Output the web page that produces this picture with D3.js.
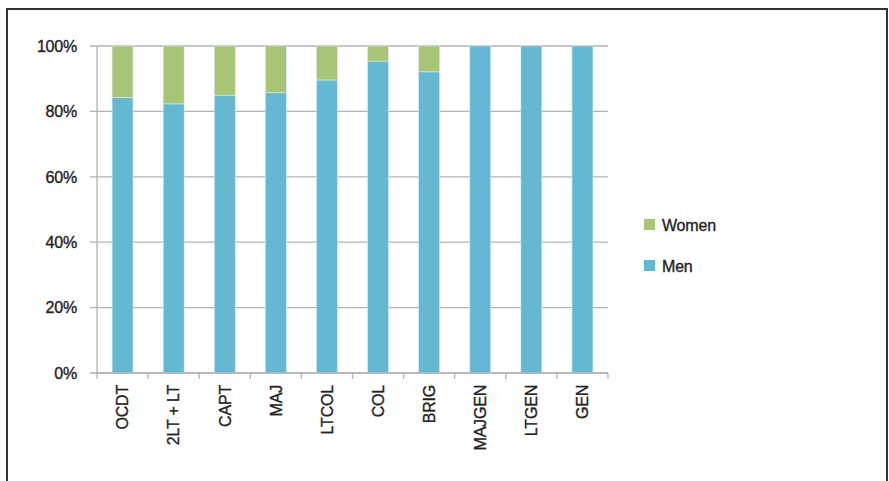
<!DOCTYPE html>
<html>
<head>
<meta charset="utf-8">
<script src="https://cdn.jsdelivr.net/npm/d3@7"></script>
<style>
  html, body { margin: 0; padding: 0; background: #fff; }
  svg { display: block; }
  text { font-family: "Liberation Sans", Arial, sans-serif; fill: #222; stroke: #222; stroke-width: 0.35px; letter-spacing: -0.2px; }
</style>
</head>
<body>
<svg id="chart" width="889" height="481"></svg>
<script>
const categories = ["OCDT", "2LT + LT", "CAPT", "MAJ", "LTCOL", "COL", "BRIG", "MAJGEN", "LTGEN", "GEN"];
const men   = [84.3, 82.3, 84.8, 85.7, 89.6, 95.4, 92.1, 100, 100, 100];
const women = [15.7, 17.7, 15.2, 14.3, 10.4, 4.6, 7.9, 0, 0, 0];
const yTicks = [0, 20, 40, 60, 80, 100];
const seriesNames = ["Men", "Women"];
const seriesColors = { Men: "#64b8d1", Women: "#a8c576" };

(function () {
const svg = d3.select("#chart");

// frame
svg.append("rect")
  .attr("x", 7).attr("y", 9).attr("width", 880).attr("height", 500)
  .attr("fill", "none").attr("stroke", "#333").attr("stroke-width", 2);

const pLeft = 97, pRight = 608, pTop = 46, pBottom = 373;

const x = d3.scaleBand().domain(categories).range([pLeft, pRight]).paddingInner(0.59).paddingOuter(0.295);
const xb = d3.scaleBand().domain(categories).range([pLeft, pRight]);
const y = d3.scaleLinear().domain([0, 100]).range([pBottom, pTop]);

// gridlines
svg.append("g").selectAll("line").data(yTicks).join("line")
  .attr("x1", pLeft - 7).attr("x2", pRight)
  .attr("y1", d => y(d)).attr("y2", d => y(d))
  .attr("stroke", "#b3b3b3").attr("stroke-width", 1.3);

// y labels
svg.append("g").selectAll("text").data(yTicks).join("text")
  .attr("x", 77).attr("y", d => y(d)).attr("dy", "0.36em")
  .attr("text-anchor", "end").attr("font-size", 16)
  .text(d => d + "%");

// stacked data
const rows = categories.map((c, i) => ({ cat: c, Men: men[i], Women: women[i] }));
const stack = d3.stack().keys(seriesNames)(rows);

svg.append("g").selectAll("g").data(stack).join("g")
  .attr("fill", d => seriesColors[d.key])
  .selectAll("rect").data(d => d.filter(p => p[1] - p[0] > 0)).join("rect")
  .attr("x", d => x(d.data.cat))
  .attr("width", x.bandwidth())
  .attr("y", d => y(d[1]))
  .attr("height", d => y(d[0]) - y(d[1]))
  .attr("stroke", "#d8ecf2").attr("stroke-width", 0.6);

// y axis line
svg.append("line").attr("x1", pLeft).attr("x2", pLeft).attr("y1", pTop).attr("y2", pBottom)
  .attr("stroke", "#b3b3b3").attr("stroke-width", 1.3);

// x axis
const xAxis = svg.append("g");
xAxis.append("line").attr("x1", pLeft).attr("x2", pRight).attr("y1", pBottom).attr("y2", pBottom)
  .attr("stroke", "#b3b3b3").attr("stroke-width", 1.3);
const tickPos = categories.map(c => xb(c)).concat([pRight]);
xAxis.selectAll("line.t").data(tickPos).join("line").attr("class", "t")
  .attr("x1", d => d).attr("x2", d => d).attr("y1", pBottom).attr("y2", pBottom + 6)
  .attr("stroke", "#b3b3b3").attr("stroke-width", 1.3);

xAxis.selectAll("text").data(categories).join("text")
  .attr("transform", d => `translate(${xb(d) + xb.bandwidth() / 2},385) rotate(-90)`)
  .attr("text-anchor", "end").attr("dy", "0.36em")
  .attr("font-size", 16)
  .text(d => d);

// legend
const legendItems = ["Women", "Men"];
const lg = svg.append("g").selectAll("g").data(legendItems).join("g")
  .attr("transform", (d, i) => `translate(644,${219 + i * 41})`);
lg.append("rect").attr("width", 11).attr("height", 11).attr("fill", d => seriesColors[d]);
lg.append("text").attr("x", 18).attr("y", 6).attr("dy", "0.36em")
  .attr("font-size", 16).text(d => d);
})();
</script>
</body>
</html>
